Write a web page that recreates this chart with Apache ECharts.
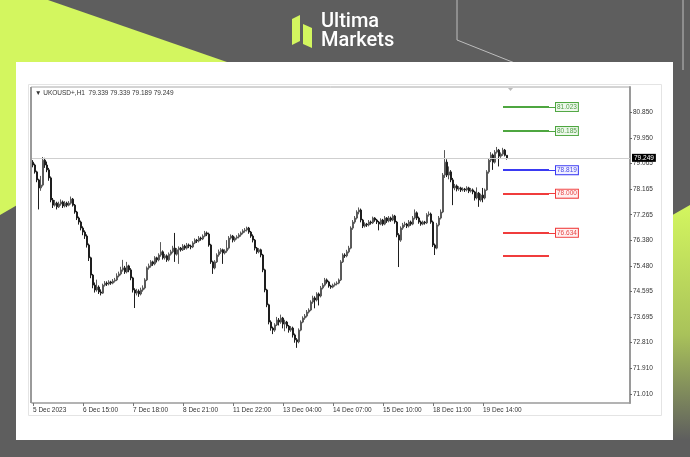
<!DOCTYPE html>
<html><head><meta charset="utf-8">
<script src="https://cdn.jsdelivr.net/npm/echarts@6/dist/echarts.min.js"></script>
<style>html,body{margin:0;padding:0;background:#5e5e5e}#c{width:690px;height:457px}</style>
</head><body><div id="c"></div>
<script>
// Hourly candles: [open, close, low, high]
const candles = [
[79.10,79.00,78.92,79.17],[79.00,78.76,78.70,79.05],[78.76,78.48,78.40,78.80],[78.48,78.20,77.45,78.52],
[78.20,78.30,78.10,78.62],[78.30,79.17,78.25,79.28],[79.17,79.00,78.90,79.25],[79.00,78.83,78.75,79.12],
[78.83,78.55,78.45,78.90],[78.55,77.78,77.70,78.60],[77.78,77.60,77.50,77.85],[77.60,77.67,77.55,77.78],
[77.67,77.54,77.45,77.72],[77.54,77.64,77.50,77.72],[77.64,77.71,77.58,77.80],[77.71,77.57,77.50,77.76],
[77.57,77.67,77.52,77.74],[77.67,77.60,77.53,77.72],[77.60,77.67,77.56,77.74],[77.67,77.81,77.62,77.90],
[77.81,77.60,77.55,77.85],[77.60,77.36,77.30,77.64],[77.36,77.15,77.08,77.40],[77.15,77.01,76.92,77.20],
[77.01,76.80,76.72,77.06],[76.80,76.66,76.55,76.86],[76.66,76.52,76.42,76.72],[76.52,76.21,76.12,76.58],
[76.21,75.76,75.65,76.26],[75.76,75.16,75.05,75.80],[75.16,74.81,74.70,75.20],[74.81,74.64,74.55,74.90],
[74.64,74.74,74.58,75.00],[74.74,74.57,74.50,74.80],[74.57,74.53,74.45,74.66],[74.53,74.81,74.50,74.86],
[74.81,74.88,74.76,74.95],[74.88,74.85,74.78,74.94],[74.85,74.92,74.80,74.98],[74.92,74.88,74.82,74.96],
[74.88,74.95,74.84,75.02],[74.95,74.99,74.90,75.06],[74.99,75.13,74.95,75.22],[75.13,75.20,75.08,75.28],
[75.20,75.34,75.15,75.45],[75.34,75.41,75.28,75.69],[75.41,75.27,75.20,75.48],[75.27,75.48,75.22,75.62],
[75.48,75.34,75.26,75.52],[75.34,75.06,74.98,75.40],[75.06,74.64,74.55,75.10],[74.64,74.53,74.01,74.70],
[74.53,74.60,74.45,74.68],[74.60,74.50,74.40,74.66],[74.50,74.64,74.45,74.72],[74.64,74.71,74.58,74.80],
[74.71,74.99,74.66,75.05],[74.99,75.41,74.95,75.46],[75.41,75.48,75.35,75.56],[75.48,75.62,75.42,75.68],
[75.62,75.55,75.48,75.66],[75.55,75.76,75.50,75.82],[75.76,75.69,75.60,75.80],[75.69,75.86,75.64,75.92],
[75.86,75.97,75.80,76.31],[75.97,75.76,75.70,76.02],[75.76,75.83,75.70,75.90],[75.83,75.69,75.62,75.88],
[75.69,75.89,75.64,75.95],[75.89,75.97,75.84,76.04],[75.97,76.10,75.92,76.18],[76.10,75.89,75.62,76.63],
[75.89,76.04,75.84,76.10],[76.04,76.10,75.55,76.16],[76.10,76.04,75.98,76.14],[76.04,76.17,76.00,76.24],
[76.17,76.10,76.04,76.22],[76.10,76.21,76.05,76.28],[76.21,76.17,76.10,76.26],[76.17,76.14,76.06,76.22],
[76.14,76.28,76.10,76.34],[76.28,76.38,76.24,76.44],[76.38,76.35,76.28,76.42],[76.35,76.45,76.30,76.52],
[76.45,76.42,76.36,76.50],[76.42,76.52,76.38,76.58],[76.52,76.63,76.48,76.70],[76.63,76.59,76.52,76.68],
[76.59,76.21,76.15,76.64],[76.21,75.62,75.55,76.25],[75.62,75.41,75.20,75.66],[75.41,75.62,75.36,75.68],
[75.62,75.86,75.58,75.92],[75.86,75.97,75.80,76.05],[75.97,76.04,75.90,76.10],[76.04,75.93,75.55,76.08],
[75.93,76.00,75.88,76.06],[76.00,76.10,75.94,76.38],[76.10,76.45,76.05,76.52],[76.45,76.52,76.40,76.58],
[76.52,76.38,76.30,76.56],[76.38,76.45,76.32,76.50],[76.45,76.49,76.40,76.55],[76.49,76.56,76.44,76.62],
[76.56,76.63,76.50,76.68],[76.63,76.70,76.58,76.76],[76.70,76.73,76.64,76.80],[76.73,76.80,76.68,76.85],
[76.80,76.66,76.60,76.84],[76.66,76.52,76.46,76.70],[76.52,76.38,76.30,76.58],[76.38,76.10,76.02,76.42],
[76.10,75.97,75.90,76.14],[75.97,76.04,75.92,76.10],[76.04,75.86,75.78,76.08],[75.86,75.34,75.26,75.90],
[75.34,74.64,74.56,75.38],[74.64,74.12,74.04,74.68],[74.12,73.52,73.44,74.16],[73.52,73.31,73.22,73.58],
[73.31,73.24,73.10,73.36],[73.24,73.42,73.18,73.48],[73.42,73.59,73.38,73.70],[73.59,73.52,73.40,73.66],
[73.52,73.66,73.46,73.78],[73.66,73.45,73.30,73.70],[73.45,73.52,73.20,73.60],[73.52,73.38,73.30,73.56],
[73.38,73.24,73.15,73.42],[73.24,73.31,73.18,73.38],[73.31,73.07,72.98,73.36],[73.07,72.90,72.80,73.12],
[72.90,72.83,72.62,72.96],[72.83,73.24,72.78,73.30],[73.24,73.52,73.20,73.58],[73.52,73.66,73.48,73.72],
[73.66,73.73,73.60,73.80],[73.73,73.87,73.68,73.94],[73.87,73.94,73.82,74.00],[73.94,74.22,73.90,74.28],
[74.22,74.36,74.16,74.44],[74.36,74.29,74.00,74.42],[74.29,74.50,74.24,74.56],[74.50,74.43,74.10,74.55],
[74.43,74.71,74.38,74.78],[74.71,74.81,74.66,74.88],[74.81,74.99,74.76,75.06],[74.99,74.92,74.86,75.04],
[74.92,74.78,74.72,74.96],[74.78,74.74,74.68,74.82],[74.74,74.81,74.70,74.86],[74.81,74.85,74.76,74.90],
[74.85,74.88,74.80,74.94],[74.88,74.99,74.84,75.04],[74.99,75.62,74.95,75.68],[75.62,75.86,75.58,75.92],
[75.86,75.83,75.76,75.92],[75.83,75.97,75.78,76.04],[75.97,76.10,75.92,76.18],[76.10,76.80,76.06,76.86],
[76.80,77.01,76.74,77.08],[77.01,77.15,76.95,77.22],[77.15,77.36,77.10,77.42],[77.36,77.43,77.28,77.52],
[77.43,77.08,77.00,77.48],[77.08,76.87,76.80,77.12],[76.87,76.94,76.82,77.00],[76.94,76.91,76.84,76.98],
[76.91,77.01,76.86,77.08],[77.01,76.98,76.92,77.06],[76.98,77.15,76.94,77.20],[77.15,77.08,77.02,77.18],
[77.08,77.01,76.94,77.12],[77.01,76.94,76.72,77.05],[76.94,77.08,76.90,77.14],[77.08,76.94,76.88,77.12],
[76.94,77.15,76.90,77.22],[77.15,77.05,76.98,77.18],[77.05,77.15,77.00,77.22],[77.15,77.08,77.02,77.20],
[77.08,77.22,77.04,77.28],[77.22,77.01,76.95,77.26],[77.01,76.56,76.48,77.05],[76.56,76.38,75.44,76.62],
[76.38,76.80,76.32,76.86],[76.80,76.91,76.74,76.98],[76.91,76.94,76.84,77.02],[76.94,76.87,76.80,76.98],
[76.87,77.01,76.82,77.08],[77.01,76.94,76.88,77.06],[76.94,77.15,76.90,77.22],[77.15,77.33,77.10,77.45],
[77.33,77.15,77.08,77.38],[77.15,77.01,76.95,77.20],[77.01,76.94,76.88,77.06],[76.94,77.01,76.90,77.06],
[77.01,76.98,76.92,77.05],[76.98,77.26,76.94,77.32],[77.26,77.29,77.20,77.38],[77.29,77.01,76.95,77.34],
[77.01,76.21,76.14,77.06],[76.21,76.10,75.86,76.26],[76.10,76.91,76.06,76.98],[76.91,77.15,76.86,77.22],
[77.15,77.36,77.10,77.45],[77.36,78.65,77.32,78.72],[78.65,79.10,78.55,79.52],[79.10,78.65,78.58,79.20],
[78.65,78.76,78.50,78.95],[78.76,78.48,78.40,78.82],[78.48,78.20,77.60,78.55],[78.20,78.27,78.12,78.34],
[78.27,78.16,78.08,78.32],[78.16,78.20,78.10,78.26],[78.20,78.13,78.06,78.24],[78.13,78.16,78.08,78.22],
[78.16,78.13,78.06,78.20],[78.13,78.20,78.08,78.26],[78.20,78.09,78.02,78.24],[78.09,78.13,78.04,78.20],
[78.13,78.06,77.98,78.18],[78.06,77.85,77.76,78.10],[77.85,78.02,77.80,78.22],[78.02,77.78,77.54,78.06],
[77.78,77.95,77.72,78.00],[77.95,77.85,77.70,78.20],[77.85,78.13,77.80,78.18],[78.13,78.76,78.10,78.82],
[78.76,79.17,78.70,79.24],[79.17,79.35,79.10,79.45],[79.35,79.10,78.83,79.40],[79.10,79.45,79.05,79.52],
[79.45,79.52,79.40,79.63],[79.52,79.31,78.95,79.56],[79.31,79.38,79.25,79.44],[79.38,79.52,79.32,79.60],
[79.52,79.339,79.30,79.56],[79.339,79.249,79.189,79.339]
];
const timeLabels = ['5 Dec 2023','6 Dec 15:00','7 Dec 18:00','8 Dec 21:00','11 Dec 22:00','13 Dec 04:00','14 Dec 07:00','15 Dec 10:00','18 Dec 11:00','19 Dec 14:00'];
const priceTicks = [80.850,79.950,79.065,78.165,77.265,76.380,75.480,74.595,73.695,72.810,71.910,71.010];
const levelValues = [81.023,80.185,78.819,78.000,76.634,75.830];
const levelLabelled = [true,true,true,true,true,false];
const lastPrice = 79.249;
const headerText = 'UKOUSD+,H1  79.339 79.339 79.189 79.249';

// ---- layout / style ----
const slotCount = 299;           // bar slots across the plot (2px each)
const labelEvery = 25;
const levelFrom = 235, levelTo = 258;
const levelStyle = [
  {line:'#4ea640', text:'#4f9e45', bg:'#eef8ec'},
  {line:'#4ea640', text:'#4f9e45', bg:'#eef8ec'},
  {line:'#3a3af2', text:'#4848e8', bg:'#f0f0ff'},
  {line:'#f03c3c', text:'#e84848', bg:'#fff0f0'},
  {line:'#f03c3c', text:'#e84848', bg:'#fff0f0'},
  {line:'#f03c3c', text:'#e84848', bg:'#fff0f0'}
];
const FONT = '"Liberation Sans", Arial, sans-serif';
const LIME = '#d3f65f';

const categories = Array.from({length: slotCount}, (_, i) => String(i));
const isLabelSlot = (i) => i % labelEvery === 0 && i / labelEvery < timeLabels.length;

const levelLines = levelValues.map((v, k) => [
  {coord:[levelFrom, v], lineStyle:{color:levelStyle[k].line, width:2, type:'solid'},
   label:{show:false}},
  {coord:[levelTo, v]}
]);
const levelLabelLines = levelValues.map((v, k) => levelLabelled[k] ? [
  {coord:[levelTo, v], lineStyle:{color:levelStyle[k].line, width:1, type:'solid'},
   label:{show:true, position:'end', distance:1, formatter: () => v.toFixed(3),
     color:levelStyle[k].text, fontSize:6.5, fontFamily:FONT,
     backgroundColor:levelStyle[k].bg, borderColor:levelStyle[k].line, borderWidth:1, padding:[1,1,0,1]}},
  {coord:[levelTo + 3, v]}
] : null).filter(Boolean);

const chart = echarts.init(document.getElementById('c'));
chart.setOption({
  backgroundColor: '#5e5e5e',
  animation: false,
  graphic: [
    {type:'polygon', z:-20, shape:{points:[[0,0],[48,0],[250,70],[0,215]]}, style:{fill:LIME}},
    {type:'polygon', z:-20, shape:{points:[[690,205],[620,245],[673,440],[690,440]]},
      style:{fill:new echarts.graphic.LinearGradient(0,0,0,1,[{offset:0,color:LIME},{offset:0.55,color:'#a9c25a'},{offset:1,color:'#5e5e5e'}])}},
    {type:'polyline', z:-19, shape:{points:[[457,0],[457,40],[545,75]]}, style:{stroke:'#bdbdbd', lineWidth:1, fill:null}},
    {type:'line', z:-19, shape:{x1:683,y1:0,x2:683,y2:70}, style:{stroke:'#bdbdbd', lineWidth:1}},
    {type:'rect', z:-18, shape:{x:16,y:62,width:657,height:378}, style:{fill:'#ffffff'}},
    {type:'rect', z:-17, shape:{x:28.5,y:84.5,width:633,height:331}, style:{fill:null, stroke:'#e4e4e4', lineWidth:1}},
    {type:'line', z:-17, shape:{x1:31,y1:87,x2:630,y2:87}, style:{stroke:'#a8a8a8', lineWidth:1}},
    {type:'line', z:-17, shape:{x1:31,y1:87,x2:31,y2:403}, style:{stroke:'#9a9a9a', lineWidth:2}},
    {type:'polygon', z:-17, shape:{points:[[508,88],[513,88],[510.5,91]]}, style:{fill:'#bbbbbb'}},
    {type:'polygon', z:10, shape:{points:[[292,19],[300,15],[300,41],[292,45]]}, style:{fill:LIME}},
    {type:'polygon', z:10, shape:{points:[[303,24],[312,28],[312,48],[303,44]]}, style:{fill:LIME}},
    {type:'text', z:10, style:{x:321, y:12, text:'Ultima', fill:'#ffffff', font:'500 20px Roboto, sans-serif'}},
    {type:'text', z:10, style:{x:321, y:31, text:'Markets', fill:'#ffffff', font:'500 20px Roboto, sans-serif'}},
    {type:'text', z:10, style:{x:35, y:90, text:'\u25BC ' + headerText, fill:'#333333', font:'6.5px ' + FONT}}
  ],
  grid: {left:32, right:60, top:87, bottom:54},
  xAxis: {
    type:'category', data:categories, boundaryGap:true,
    axisLine:{show:true, lineStyle:{color:'#9a9a9a', width:1.5}},
    axisTick:{show:true, interval:(i) => isLabelSlot(i), alignWithLabel:true, length:3, lineStyle:{color:'#777'}},
    axisLabel:{show:true, interval:(i) => isLabelSlot(i), align:'left', margin:4, fontSize:6.5, fontFamily:FONT, color:'#333',
      formatter:(v, i) => isLabelSlot(i) ? timeLabels[i/labelEvery] : ''},
    splitLine:{show:false}
  },
  yAxis: {
    type:'value', position:'right', min:70.696, max:81.722, scale:true,
    axisLine:{show:true, lineStyle:{color:'#9a9a9a', width:2}},
    axisTick:{show:true, inside:false, length:2, customValues:priceTicks, lineStyle:{color:'#666'}},
    axisLabel:{show:true, customValues:priceTicks, margin:3, fontSize:6.5, fontFamily:FONT, color:'#333',
      formatter:(v) => v.toFixed(3)},
    splitLine:{show:false}
  },
  series: [{
    type:'candlestick', data:candles, barWidth:1.4,
    itemStyle:{color:'#666666', color0:'#1e1e1e', borderColor:'#5a5a5a', borderColor0:'#1e1e1e', borderWidth:1},
    markLine:{
      silent:true, symbol:'none', animation:false,
      data:[
        {yAxis:lastPrice, lineStyle:{color:'#cfcfcf', width:1, type:'solid'},
         label:{show:true, position:'end', distance:2, formatter:() => lastPrice.toFixed(3), color:'#ffffff',
           backgroundColor:'#000000', fontSize:6.5, fontFamily:FONT, padding:[1,2,0,2]}},
        ...levelLines,
        ...levelLabelLines
      ]
    }
  }]
});
</script></body></html>
